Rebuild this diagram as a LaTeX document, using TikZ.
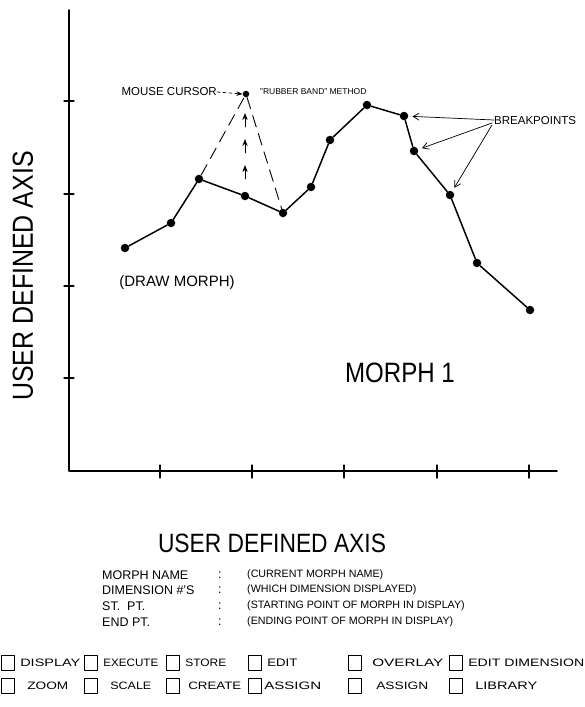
\documentclass[tikz,border=0pt]{standalone}
\usepackage{fontspec}
\usepackage{graphicx}
\setmainfont{Liberation Sans}
\newfontfamily\handcn{Liberation Sans}[FakeStretch=0.86]
\usetikzlibrary{arrows.meta, positioning}

\tikzset{
  dot/.style={circle, fill, inner sep=0pt, minimum size=8.5pt},
  btn/.style={draw, line width=1.1pt, minimum width=13pt, minimum height=15pt, inner sep=0pt, anchor=west},
  btnlabel/.style={inner sep=0pt},
  tbllabel/.style={font=\fontsize{12.5}{12.5}\selectfont, anchor=west, inner sep=0pt},
  tblvalue/.style={font=\fontsize{10.7}{10.7}\selectfont, anchor=west, inner sep=0pt},
  band/.style={dash pattern=on 12pt off 7pt, line width=0.9pt},
  pointer/.style={-{Straight Barb[length=6pt, width=7pt]}, line width=0.7pt, shorten >=4pt}
}

\begin{document}
\begin{tikzpicture}[x=1pt, y=-1pt, line cap=round, line join=round, >=Stealth]
  \useasboundingbox (0,0) rectangle (585,707);

  % axes
  \coordinate (O) at (69,471);
  \coordinate (ytop) at (69,10);
  \coordinate (xend) at (557,471);
  \draw[line width=1.8pt] (ytop) -- (O) -- (xend);
  \foreach \y in {101,194,286,378}
    \draw[line width=1.2pt] (64,\y) -- (74,\y);
  \foreach \x in {160,252,344,437,529}
    \draw[line width=1.2pt] (\x,465) -- (\x,478);

  \node[font=\handcn\fontsize{29}{29}\selectfont, rotate=90] (ylab) at (23,276) {USER DEFINED AXIS};
  \node[font=\handcn\fontsize{26.5}{26.5}\selectfont] (xlab) at (272,543) {USER DEFINED AXIS};

  % the morph
  \foreach \n/\x/\y in {1/125/248, 2/171/223, 3/199/179, 4/245/196, 5/283/213,
      6/311/187, 7/330/140, 8/367/105, 9/404/116, 10/414/151, 11/450/195,
      12/477/263, 13/530/310}
    \node[dot] (m\n) at (\x,\y) {};
  \draw[line width=1.5pt] (m1) -- (m2) -- (m3) -- (m4) -- (m5) -- (m6) -- (m7)
    -- (m8) -- (m9) -- (m10) -- (m11) -- (m12) -- (m13);

  % rubber band
  \node[dot, minimum size=6.5pt] (cursor) at (246,94) {};
  \draw[band] (m3) -- (cursor) -- (m5);
  \foreach \y in {179,153,127}
    \draw[->, line width=0.9pt] (245,\y) -- (245,\y-14);

  \node[font=\fontsize{11.5}{11.5}\selectfont, anchor=east, inner sep=0pt] (mouse) at (217,92) {MOUSE CURSOR};
  \draw[->, dashed, line width=0.7pt] (mouse.east) -- (cursor.west);
  \node[font=\fontsize{8.5}{8.5}\selectfont, anchor=west, inner sep=0pt] (rubber) at (260,92) {"RUBBER BAND" METHOD};

  \node[font=\fontsize{11.5}{11.5}\selectfont, anchor=west, inner sep=0pt] (bp) at (494,121) {BREAKPOINTS};
  \draw[pointer] ([yshift=1pt]bp.west) -- (m9);
  \draw[pointer] ([xshift=-2pt, yshift=-2pt]bp.west) -- (m10);
  \draw[pointer] ([xshift=-2pt, yshift=-4pt]bp.west) -- (m11);

  \node[font=\fontsize{15}{15}\selectfont] (draw) at (177,283) {(DRAW MORPH)};
  \node[font=\handcn\fontsize{28}{28}\selectfont] (name) at (400,373) {MORPH 1};

  % status lines
  \foreach \i/\y/\lab/\val in {1/575/MORPH NAME/(CURRENT MORPH NAME),
      2/590/DIMENSION \#'S/(WHICH DIMENSION DISPLAYED),
      3/606/ST.\ \ PT./(STARTING POINT OF MORPH IN DISPLAY),
      4/622/END PT./(ENDING POINT OF MORPH IN DISPLAY)} {
    \node[tbllabel] (lab\i) at (102,\y) {\lab};
    \node[tbllabel] (col\i) at (218,\y) {:};
    \node[tblvalue] (val\i) at (247,\y) {\val};
  }

  % menu buttons
  \foreach \i/\x/\g/\w/\lab in {1/1/5/60/DISPLAY, 2/84/5/55/EXECUTE, 3/166/5/41/STORE,
      4/248/5/30/EDIT, 5/348/10/71/OVERLAY, 6/449/5/116/EDIT DIMENSION} {
    \node[btn] (ba\i) at (\x,663) {};
    \node[btnlabel, right=\g pt of ba\i] {\resizebox{\w pt}{7.5pt}{\lab}};
  }
  \foreach \i/\x/\g/\w/\lab in {1/1/12/41/ZOOM, 2/84/12/41/SCALE, 3/166/8/53/CREATE,
      4/248/2/57/ASSIGN, 5/348/14/52/ASSIGN, 6/449/12/62/LIBRARY} {
    \node[btn] (bb\i) at (\x,686) {};
    \node[btnlabel, right=\g pt of bb\i] {\resizebox{\w pt}{7.5pt}{\lab}};
  }
\end{tikzpicture}
\end{document}
